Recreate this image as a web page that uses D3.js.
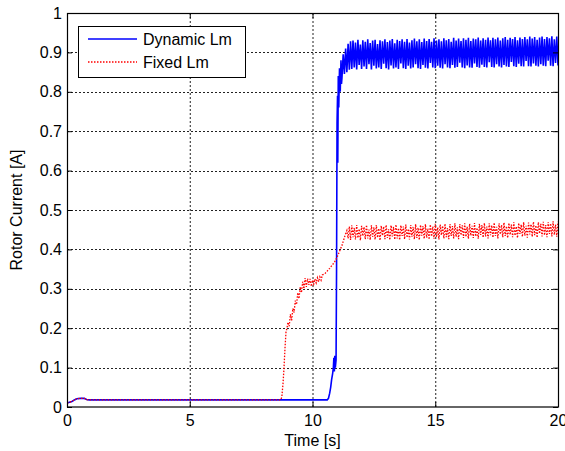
<!DOCTYPE html>
<html lang="en">
  <head>
    <meta charset="utf-8">
    <title>Rotor Current - D3</title>
    <style>
      body { margin: 0; background: #fff; }
      text { font-family: "Liberation Sans", Arial, sans-serif; fill: #000; }
    </style>
  </head>
  <body>
    <div id="dataviz_area"></div>
    <script src="https://d3js.org/d3.v7.min.js"></script>
    <script>
      // axis ticks
      var xTicks = [0, 5, 10, 15, 20]
      var yTicks = [0, 0.1, 0.2, 0.3, 0.4, 0.5, 0.6, 0.7, 0.8, 0.9, 1]
      var seriesNames = ["Dynamic Lm", "Fixed Lm"]
      var seriesColors = ["#0000ff", "#ff0000"]

      // start-up transient, [time, current]
      var dynamicStart = [
        [0, 0.010], [0.1, 0.012], [0.2, 0.014], [0.3, 0.018], [0.4, 0.021], [0.55, 0.022],
        [0.7, 0.022], [0.8, 0.019], [0.9, 0.018], [10.60, 0.018], [10.65, 0.022], [10.70, 0.035],
        [10.74, 0.05], [10.78, 0.07], [10.82, 0.085], [10.85, 0.10], [10.87, 0.125], [10.89, 0.09],
        [10.91, 0.13], [10.93, 0.10], [10.96, 0.12], [10.98, 0.35], [11.00, 0.72], [11.02, 0.79],
        [11.03, 0.62], [11.05, 0.84], [11.07, 0.76], [11.10, 0.86], [11.13, 0.80], [11.16, 0.88],
        [11.18, 0.82]
      ]
      var fixedStart = [
        [0, 0.010], [0.1, 0.012], [0.2, 0.014], [0.3, 0.018], [0.4, 0.021], [0.55, 0.022],
        [0.7, 0.022], [0.8, 0.019], [0.9, 0.018], [8.70, 0.018], [8.75, 0.025], [8.80, 0.06],
        [8.84, 0.10], [8.88, 0.15], [8.92, 0.19], [8.96, 0.20], [9.00, 0.215], [9.05, 0.205],
        [9.10, 0.235], [9.15, 0.22], [9.20, 0.25], [9.25, 0.24], [9.30, 0.27], [9.35, 0.26],
        [9.40, 0.29], [9.45, 0.275], [9.50, 0.305], [9.55, 0.29], [9.60, 0.318], [9.65, 0.30],
        [9.70, 0.327], [9.75, 0.305], [9.80, 0.326], [9.85, 0.31], [9.90, 0.325], [9.95, 0.306],
        [10.00, 0.322], [10.05, 0.312], [10.10, 0.325], [10.15, 0.315], [10.20, 0.328], [10.25, 0.318],
        [10.30, 0.330], [10.35, 0.322], [10.40, 0.335], [10.50, 0.338], [10.60, 0.345], [10.70, 0.352],
        [10.80, 0.36], [10.90, 0.368], [11.00, 0.38], [11.10, 0.395], [11.20, 0.41], [11.30, 0.43],
        [11.35, 0.44]
      ]

      // steady-state ripple, sampled every 0.05 s
      var sampleStep = 0.05
      var dynamicRippleStart = 11.20
      var dynamicRipple = [
        0.835, 0.895, 0.845, 0.910, 0.850, 0.922, 0.856, 0.928, 0.858, 0.930,
        0.862, 0.925, 0.857, 0.932, 0.868, 0.920, 0.858, 0.931, 0.864, 0.927,
        0.858, 0.933, 0.870, 0.924, 0.857, 0.930, 0.866, 0.932, 0.859, 0.921,
        0.862, 0.931, 0.858, 0.928, 0.871, 0.933, 0.860, 0.926, 0.857, 0.930,
        0.867, 0.934, 0.859, 0.923, 0.862, 0.932, 0.858, 0.929, 0.872, 0.933,
        0.860, 0.927, 0.858, 0.934, 0.866, 0.925, 0.859, 0.931, 0.862, 0.935,
        0.870, 0.928, 0.860, 0.933, 0.858, 0.926, 0.868, 0.935, 0.861, 0.929,
        0.859, 0.934, 0.873, 0.927, 0.862, 0.936, 0.860, 0.930, 0.866, 0.933,
        0.861, 0.928, 0.859, 0.936, 0.870, 0.931, 0.862, 0.934, 0.860, 0.927,
        0.868, 0.937, 0.861, 0.930, 0.863, 0.935, 0.874, 0.929, 0.862, 0.936,
        0.860, 0.932, 0.867, 0.937, 0.862, 0.929, 0.861, 0.935, 0.872, 0.933,
        0.863, 0.938, 0.861, 0.930, 0.869, 0.936, 0.863, 0.932, 0.862, 0.938,
        0.875, 0.931, 0.863, 0.937, 0.862, 0.933, 0.870, 0.938, 0.864, 0.930,
        0.862, 0.936, 0.868, 0.939, 0.864, 0.932, 0.863, 0.937, 0.876, 0.934,
        0.865, 0.939, 0.863, 0.931, 0.871, 0.938, 0.865, 0.934, 0.864, 0.939,
        0.878, 0.933, 0.865, 0.940, 0.864, 0.935, 0.872, 0.939, 0.866, 0.932,
        0.864, 0.938, 0.870, 0.940, 0.866, 0.934, 0.865, 0.939, 0.879, 0.936,
        0.866, 0.941, 0.865, 0.933, 0.873, 0.940, 0.867
      ]
      var fixedRippleStart = 11.40
      var fixedRipple = [
        0.448, 0.428, 0.458, 0.424, 0.461, 0.431, 0.455, 0.425, 0.462, 0.429,
        0.452, 0.423, 0.460, 0.434, 0.457, 0.426, 0.462, 0.428, 0.450, 0.424,
        0.461, 0.432, 0.456, 0.425, 0.462, 0.430, 0.453, 0.423, 0.460, 0.435,
        0.458, 0.426, 0.462, 0.429, 0.451, 0.424, 0.461, 0.433, 0.457, 0.425,
        0.463, 0.428, 0.454, 0.424, 0.461, 0.434, 0.458, 0.426, 0.463, 0.430,
        0.452, 0.425, 0.462, 0.432, 0.457, 0.426, 0.464, 0.429, 0.455, 0.424,
        0.462, 0.435, 0.459, 0.427, 0.464, 0.430, 0.453, 0.425, 0.463, 0.433,
        0.458, 0.427, 0.465, 0.431, 0.456, 0.425, 0.463, 0.436, 0.460, 0.428,
        0.465, 0.431, 0.454, 0.426, 0.464, 0.434, 0.459, 0.428, 0.466, 0.432,
        0.456, 0.426, 0.464, 0.436, 0.461, 0.429, 0.466, 0.432, 0.457, 0.427,
        0.465, 0.435, 0.460, 0.429, 0.467, 0.433, 0.455, 0.427, 0.465, 0.437,
        0.462, 0.430, 0.467, 0.433, 0.458, 0.428, 0.466, 0.436, 0.461, 0.430,
        0.468, 0.434, 0.457, 0.428, 0.466, 0.438, 0.462, 0.431, 0.468, 0.434,
        0.459, 0.429, 0.467, 0.437, 0.463, 0.431, 0.469, 0.435, 0.458, 0.429,
        0.467, 0.439, 0.463, 0.432, 0.469, 0.435, 0.460, 0.430, 0.468, 0.438,
        0.464, 0.432, 0.470, 0.436, 0.461, 0.430, 0.469, 0.440, 0.465, 0.433,
        0.470, 0.436, 0.462, 0.431, 0.469, 0.439, 0.466, 0.433, 0.471, 0.437,
        0.463, 0.432, 0.470
      ]

      var W = 565, H = 451
      var margins = {top: 13, right: 7, bottom: 44, left: 67}
      var width = W - margins.left - margins.right,
          height = H - margins.top - margins.bottom

      // join transient and ripple into one series
      function buildSeries(start, rippleStart, ripple) {
        var pts = start.slice()
        ripple.forEach(function (v, i) {
          pts.push([rippleStart + i * sampleStep, v])
        })
        return pts
      }
      var dynamicData = buildSeries(dynamicStart, dynamicRippleStart, dynamicRipple)
      var fixedData = buildSeries(fixedStart, fixedRippleStart, fixedRipple)

      var svg = d3.select("#dataviz_area")
        .append("svg")
          .attr("width", W)
          .attr("height", H)
        .append("g")
          .attr("transform", "translate(" + margins.left + "," + margins.top + ")")

      var x = d3.scaleLinear().domain([0, 20]).range([0, width])
      var y = d3.scaleLinear().domain([0, 1]).range([height, 0])

      svg.append("clipPath").attr("id", "plotclip")
        .append("rect").attr("width", width).attr("height", height)

      // grid
      svg.append("g")
        .selectAll("line")
        .data(xTicks.filter(function (d) { return d > 0 && d < 20 }))
        .join("line")
          .attr("x1", function (d) { return x(d) + 0.5 })
          .attr("x2", function (d) { return x(d) + 0.5 })
          .attr("y1", 0)
          .attr("y2", height)
          .attr("stroke", "#222")
          .attr("stroke-dasharray", "2,2")
      svg.append("g")
        .selectAll("line")
        .data(yTicks.filter(function (d) { return d > 0 && d < 1 }))
        .join("line")
          .attr("x1", 0)
          .attr("x2", width)
          .attr("y1", function (d) { return Math.round(y(d)) + 0.5 })
          .attr("y2", function (d) { return Math.round(y(d)) + 0.5 })
          .attr("stroke", "#222")
          .attr("stroke-dasharray", "2,2")

      var line = d3.line()
        .x(function (d) { return x(d[0]) })
        .y(function (d) { return y(d[1]) })

      var plot = svg.append("g").attr("clip-path", "url(#plotclip)")

      plot.append("path")
        .datum(dynamicData)
        .attr("d", line)
        .attr("fill", "none")
        .attr("stroke", seriesColors[0])
        .attr("stroke-width", 1.6)

      plot.append("path")
        .datum(fixedData)
        .attr("d", line)
        .attr("fill", "none")
        .attr("stroke", seriesColors[1])
        .attr("stroke-width", 1.3)
        .attr("stroke-dasharray", "1.5,1.5")

      // axes, ticks pointing inward on all four sides
      svg.append("g")
        .attr("transform", "translate(0," + height + ")")
        .call(d3.axisBottom(x).tickValues(xTicks).tickSizeInner(-5).tickSizeOuter(0).tickPadding(8).tickFormat(d3.format("d")))
      svg.append("g")
        .call(d3.axisTop(x).tickValues(xTicks).tickSizeInner(-5).tickSizeOuter(0).tickFormat(""))
      svg.append("g")
        .call(d3.axisLeft(y).tickValues(yTicks).tickSizeInner(-5).tickSizeOuter(0).tickPadding(5).tickFormat(function (d) { return d3.format("~g")(d) }))
      svg.append("g")
        .attr("transform", "translate(" + width + ",0)")
        .call(d3.axisRight(y).tickValues(yTicks).tickSizeInner(-5).tickSizeOuter(0).tickFormat(""))

      svg.selectAll(".domain").remove()
      svg.selectAll(".tick line").attr("stroke", "#000")
      svg.selectAll(".tick text")
        .attr("font-size", 16)
        .attr("font-family", "Liberation Sans, Arial, sans-serif")

      svg.append("rect")
        .attr("x", 0.5)
        .attr("y", 0.5)
        .attr("width", width)
        .attr("height", height - 0.5)
        .attr("fill", "none")
        .attr("stroke", "#000")
        .attr("stroke-width", 1.2)

      // axis labels
      svg.append("text")
        .attr("x", width / 2)
        .attr("y", height + 39)
        .attr("text-anchor", "middle")
        .attr("font-size", 16)
        .text("Time [s]")
      svg.append("text")
        .attr("transform", "translate(-45," + height / 2 + ") rotate(-90)")
        .attr("text-anchor", "middle")
        .attr("font-size", 16)
        .text("Rotor Current [A]")

      // legend
      var legend = svg.append("g").attr("transform", "translate(11,13)")
      legend.append("rect")
        .attr("x", 0.5)
        .attr("y", 0.5)
        .attr("width", 167)
        .attr("height", 51)
        .attr("fill", "#fff")
        .attr("stroke", "#000")
      var entries = legend.selectAll(".entry")
        .data(seriesNames)
        .join("g")
          .attr("class", "entry")
          .attr("transform", function (d, i) { return "translate(0," + (13 + i * 23) + ")" })
      entries.append("path")
        .attr("d", "M10,0H59")
        .attr("fill", "none")
        .style("stroke", function (d) { return seriesColors[seriesNames.indexOf(d)] })
        .style("stroke-width", 1.4)
        .style("stroke-dasharray", function (d) { return d === seriesNames[1] ? "1.5,1.5" : "none" })
      entries.append("text")
        .attr("x", 65)
        .attr("dy", "0.35em")
        .attr("font-size", 16)
        .text(function (d) { return d })
    </script>
  </body>
</html>
